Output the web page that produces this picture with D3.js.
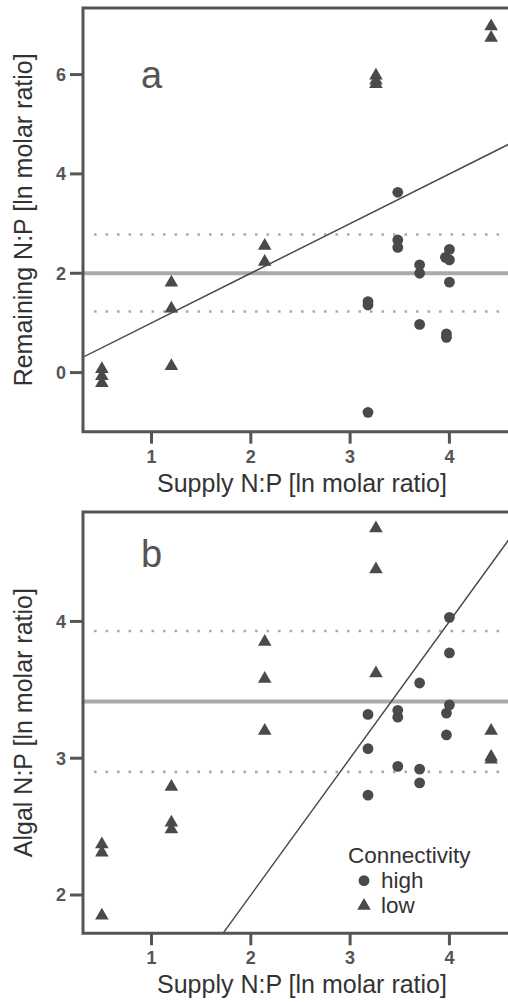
<!DOCTYPE html>
<html>
<head>
<meta charset="utf-8">
<script src="https://cdn.jsdelivr.net/npm/d3@7"></script>
<style>
  html, body { margin: 0; padding: 0; background: #fff; }
  svg { display: block; font-family: "Liberation Sans", Arial, sans-serif; }
</style>
</head>
<body>
<div id="chart"></div>
<script>
// supply N:P levels (ln molar ratio)
const xTicks = [1, 2, 3, 4];

// panel a: remaining N:P
const remainingHigh = [
    [3.18, 1.43], [3.18, 1.36], [3.18, -0.80],
    [3.48, 3.63], [3.48, 2.67], [3.48, 2.52],
    [3.70, 2.17], [3.70, 2.00], [3.70, 0.97],
    [4.00, 2.48], [3.96, 2.32], [4.00, 2.27], [4.00, 1.82], [3.97, 0.78], [3.97, 0.71]
];
const remainingLow = [
    [0.50, 0.07], [0.50, -0.07], [0.50, -0.21],
    [1.20, 1.81], [1.20, 1.29], [1.20, 0.13],
    [2.14, 2.55], [2.14, 2.23],
    [3.26, 5.98], [3.26, 5.88], [3.26, 5.81],
    [4.42, 6.97], [4.42, 6.74]
];
const remainingTicks = [0, 2, 4, 6];
const remainingRefs = { solid: 2.0, dotted: [2.78, 1.23] };

// panel b: algal N:P
const algalHigh = [
    [3.18, 3.32], [3.18, 3.07], [3.18, 2.73],
    [3.48, 3.35], [3.48, 3.30], [3.48, 2.94],
    [3.70, 3.55], [3.70, 2.92], [3.70, 2.82],
    [4.00, 4.03], [4.00, 3.77], [4.00, 3.39], [3.97, 3.33], [3.97, 3.17]
];
const algalLow = [
    [0.50, 2.37], [0.50, 2.31], [0.50, 1.85],
    [1.20, 2.79], [1.20, 2.53], [1.20, 2.48],
    [2.14, 3.85], [2.14, 3.58], [2.14, 3.20],
    [3.26, 4.68], [3.26, 4.38], [3.26, 3.62],
    [4.42, 3.20], [4.42, 3.01], [4.42, 2.99]
];
const algalTicks = [2, 3, 4];
const algalRefs = { solid: 3.415, dotted: [3.93, 2.90] };

// 1:1 line
const fitLine = { slope: 1.0, intercept: 0.0 };

const width = 508, height = 1002;
const left = 83, right = 509;
const axisColor = "#555", markColor = "#4a4a4a", refColor = "#aaa";

const svg = d3.select("#chart").append("svg")
    .attr("width", width)
    .attr("height", height);

const x = d3.scaleLinear().domain([0.31, 4.6]).range([left, right]);

function panel(opts) {
    const y = d3.scaleLinear().domain(opts.yDomain).range([opts.bottom, opts.top]);
    const g = svg.append("g");

    const clipId = "clip-" + opts.letter;
    svg.append("clipPath").attr("id", clipId)
        .append("rect")
        .attr("x", left).attr("y", opts.top)
        .attr("width", width - left + 10).attr("height", opts.bottom - opts.top);

    const inner = g.append("g").attr("clip-path", `url(#${clipId})`);

    // reference lines
    inner.append("line")
        .attr("x1", left).attr("x2", width + 5)
        .attr("y1", y(opts.refs.solid)).attr("y2", y(opts.refs.solid))
        .attr("stroke", refColor).attr("stroke-width", 4);

    inner.selectAll("line.dot")
        .data(opts.refs.dotted)
        .join("line")
        .attr("class", "dot")
        .attr("x1", left + 11).attr("x2", width + 5)
        .attr("y1", d => y(d)).attr("y2", d => y(d))
        .attr("stroke", refColor).attr("stroke-width", 2.6)
        .attr("stroke-dasharray", "2.6 8.9");

    // 1:1 line
    const x0 = x.domain()[0], x1 = x.domain()[1];
    inner.append("line")
        .attr("x1", x(x0)).attr("y1", y(fitLine.intercept + fitLine.slope * x0))
        .attr("x2", x(x1)).attr("y2", y(fitLine.intercept + fitLine.slope * x1))
        .attr("stroke", "#444").attr("stroke-width", 1.4);

    // points
    inner.selectAll("circle.high")
        .data(opts.high)
        .join("circle")
        .attr("class", "high")
        .attr("cx", d => x(d[0])).attr("cy", d => y(d[1]))
        .attr("r", 5.4)
        .attr("fill", markColor);

    const tri = d3.symbol().type(d3.symbolTriangle).size(80);
    inner.selectAll("path.low")
        .data(opts.low)
        .join("path")
        .attr("class", "low")
        .attr("transform", d => `translate(${x(d[0])},${y(d[1])})`)
        .attr("d", tri)
        .attr("fill", markColor);

    // frame (open on the right, cut by the page edge)
    g.append("path")
        .attr("d", `M${width + 5},${opts.top} H${left} V${opts.bottom} H${width + 5}`)
        .attr("fill", "none")
        .attr("stroke", axisColor)
        .attr("stroke-width", 3);

    // x ticks
    const xt = g.selectAll("g.xt").data(xTicks).join("g")
        .attr("transform", d => `translate(${x(d)},${opts.bottom})`);
    xt.append("line").attr("y1", 0).attr("y2", 12)
        .attr("stroke", axisColor).attr("stroke-width", 3);
    xt.append("text").attr("y", 31).attr("text-anchor", "middle")
        .attr("font-size", 18).attr("font-weight", "bold").attr("fill", axisColor)
        .text(d => d);

    // y ticks
    const yt = g.selectAll("g.yt").data(opts.yTicks).join("g")
        .attr("transform", d => `translate(${left},${y(d)})`);
    yt.append("line").attr("x1", 0).attr("x2", -13)
        .attr("stroke", axisColor).attr("stroke-width", 3);
    yt.append("text").attr("x", -17).attr("dy", "0.36em").attr("text-anchor", "end")
        .attr("font-size", 18).attr("font-weight", "bold").attr("fill", axisColor)
        .text(d => d);

    // axis titles
    g.append("text")
        .attr("x", 302).attr("y", opts.bottom + 60)
        .attr("text-anchor", "middle").attr("font-size", 25).attr("fill", "#333")
        .text("Supply N:P [ln molar ratio]");
    g.append("text")
        .attr("transform", `translate(32,${(opts.top + opts.bottom) / 2}) rotate(-90)`)
        .attr("text-anchor", "middle").attr("font-size", 25).attr("fill", "#333")
        .text(opts.yLabel);

    // panel letter
    g.append("text")
        .attr("x", 141).attr("y", opts.top + opts.letterDy)
        .attr("font-size", 38).attr("fill", axisColor)
        .text(opts.letter);

    return { g, y };
}

panel({
    letter: "a", letterDy: 80,
    top: 8, bottom: 431.7,
    yDomain: [-1.19, 7.34], yTicks: remainingTicks,
    refs: remainingRefs,
    high: remainingHigh, low: remainingLow,
    yLabel: "Remaining N:P [ln molar ratio]"
});

panel({
    letter: "b", letterDy: 55,
    top: 512, bottom: 933.3,
    yDomain: [1.72, 4.80], yTicks: algalTicks,
    refs: algalRefs,
    high: algalHigh, low: algalLow,
    yLabel: "Algal N:P [ln molar ratio]"
});

// legend
const legendItems = [
    { label: "high", shape: d3.symbolCircle },
    { label: "low", shape: d3.symbolTriangle }
];
const legend = svg.append("g").attr("transform", "translate(348,862.5)");
legend.append("text").attr("x", 0).attr("y", 0)
    .attr("font-size", 22.5).attr("fill", "#333").text("Connectivity");
const items = legend.selectAll("g.item").data(legendItems).join("g")
    .attr("class", "item")
    .attr("transform", (_, i) => `translate(0,${(i + 1) * 25.2})`);
items.append("path")
    .attr("transform", "translate(16,-7)")
    .attr("d", d => d3.symbol().type(d.shape).size(d.shape === d3.symbolCircle ? 92 : 80)())
    .attr("fill", markColor);
items.append("text").attr("x", 33).attr("y", 0)
    .attr("font-size", 22.5).attr("fill", "#333").text(d => d.label);
</script>
</body>
</html>
